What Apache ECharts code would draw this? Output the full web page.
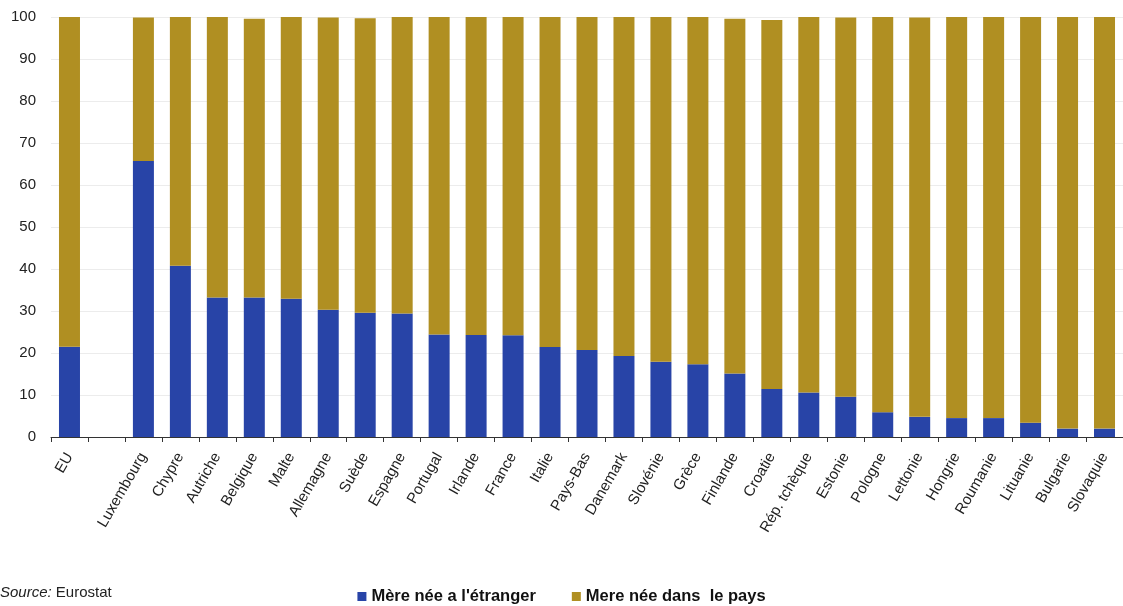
<!DOCTYPE html>
<html>
<head>
<meta charset="utf-8">
<script src="https://cdn.jsdelivr.net/npm/echarts@6/dist/echarts.min.js"></script>
<style>
  html, body { margin: 0; padding: 0; background: #fff; }
  #chart { width: 1123px; height: 606px; }
</style>
</head>
<body>
<div id="chart"></div>
<script>
// Part des naissances selon le pays de naissance de la mère (%)
const categories = ['EU', '', 'Luxembourg', 'Chypre', 'Autriche', 'Belgique', 'Malte', 'Allemagne', 'Suède',
  'Espagne', 'Portugal', 'Irlande', 'France', 'Italie', 'Pays-Bas', 'Danemark', 'Slovénie', 'Grèce',
  'Finlande', 'Croatie', 'Rép. tchèque', 'Estonie', 'Pologne', 'Lettonie', 'Hongrie', 'Roumanie',
  'Lituanie', 'Bulgarie', 'Slovaquie'];

const mereEtranger = [21.5, '-', 65.7, 40.8, 33.2, 33.2, 32.9, 30.3, 29.6,
  29.4, 24.4, 24.3, 24.2, 21.4, 20.7, 19.3, 17.9, 17.3,
  15.1, 11.4, 10.6, 9.6, 5.9, 4.8, 4.5, 4.5,
  3.4, 2.0, 2.0];

const mereDansPays = [78.5, '-', 34.2, 59.2, 66.8, 66.4, 67.1, 69.6, 70.1,
  70.6, 75.6, 75.7, 75.8, 78.6, 79.3, 80.7, 82.1, 82.7,
  84.5, 87.9, 89.4, 90.3, 94.1, 95.1, 95.5, 95.5,
  96.6, 98.0, 98.0];

const yTicks = { min: 0, max: 100, interval: 10 };

const BLUE = '#2844a7';
const GOLD = '#b08f22';
const FONT = '"Liberation Sans", Arial, sans-serif';

const chart = echarts.init(document.getElementById('chart'), null, { renderer: 'canvas' });

chart.setOption({
  animation: false,
  backgroundColor: '#ffffff',
  textStyle: { fontFamily: FONT },
  grid: { left: 51, top: 17, width: 1076, height: 420, containLabel: false },
  xAxis: {
    type: 'category',
    data: categories,
    axisLine: { show: true, lineStyle: { color: '#333', width: 1 } },
    axisTick: { show: true, alignWithLabel: false, length: 5, lineStyle: { color: '#333' } },
    axisLabel: {
      interval: 0,
      rotate: 60,
      margin: 17,
      fontSize: 15,
      color: '#222',
      fontFamily: FONT
    },
    splitLine: { show: false }
  },
  yAxis: {
    type: 'value',
    min: yTicks.min,
    max: yTicks.max,
    interval: yTicks.interval,
    axisLine: { show: false },
    axisTick: { show: false },
    axisLabel: { fontSize: 15, color: '#222', margin: 15, fontFamily: FONT },
    splitLine: { show: true, lineStyle: { color: '#ececec', width: 1 } }
  },
  legend: {
    left: 'center',
    top: 583,
    itemWidth: 9,
    itemHeight: 9,
    itemGap: 36,
    icon: 'rect',
    textStyle: { fontSize: 16.5, fontWeight: 'bold', color: '#111', fontFamily: FONT },
    data: ["Mère née a l'étranger", 'Mere née dans  le pays']
  },
  series: [
    {
      name: "Mère née a l'étranger",
      type: 'bar',
      stack: 'total',
      barWidth: 21,
      itemStyle: { color: BLUE },
      data: mereEtranger
    },
    {
      name: 'Mere née dans  le pays',
      type: 'bar',
      stack: 'total',
      barWidth: 21,
      itemStyle: { color: GOLD },
      data: mereDansPays
    }
  ],
  graphic: [
    {
      type: 'text',
      left: 0,
      top: 585,
      style: {
        text: '{i|Source:} Eurostat',
        rich: {
          i: { fontStyle: 'italic', fontSize: 15, fill: '#222', fontFamily: FONT }
        },
        fontSize: 15,
        fill: '#222',
        fontFamily: FONT
      }
    }
  ]
});
</script>
</body>
</html>
